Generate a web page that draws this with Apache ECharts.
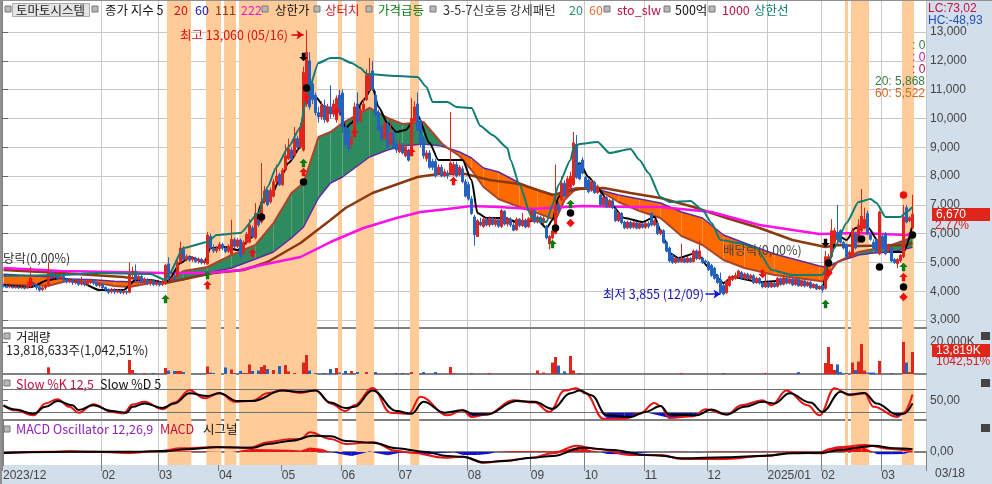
<!DOCTYPE html>
<html><head><meta charset="utf-8">
<style>html,body{margin:0;padding:0;background:#fff}#c{width:992px;height:484px}</style>
<script src="https://cdn.jsdelivr.net/npm/echarts@6/dist/echarts.min.js"></script>
</head><body><div id="c"></div>
<script>
// ---------- axis data ----------
const dayCount = 308;
const monthIdx = [0,33,52,72,93,113,132,155,176,194,214,235,255,273,293];
const monthLabels = ['2023/12','02','03','04','05','06','07','08','09','10','11','12','2025/01','02','03'];
const priceTicks = [3000,4000,5000,6000,7000,8000,9000,10000,11000,12000,13000];
const shadeBands = [[55,63],[68,73],[74,78],[79,105],[112,113.33],[118,124],[136,139],[281,282],[283,289],[300,304]];

// ---------- candles [open, close, low, high] by month ----------
const rowsDec23 = [[4200,4170,4130,4260],[4180,4130,4100,4230],[4150,4180,4100,4210],[4170,4120,4090,4200],[4130,4160,4090,4200],[4150,4110,4080,4190],[4120,4150,4080,4180],[4140,4100,4060,4170],[4110,4180,4080,4220],[4170,4300,4100,4850],[4290,4230,4150,4330],[4220,4130,4040,4250],[4140,4040,3980,4180],[4060,4120,4000,4180],[4120,4200,4060,4260],[4200,4680,4150,5000],[4650,4500,4420,4740],[4500,4580,4430,4680],[4570,4440,4390,4620],[4450,4520,4400,4590],[4510,4420,4340,4560],[4420,4320,4270,4470],[4320,4400,4280,4460],[4390,4300,4220,4430],[4300,4350,4240,4420],[4340,4240,4180,4380],[4250,4320,4200,4500],[4310,4230,4170,4350],[4240,4320,4180,4380],[4310,4380,4250,4440],[4370,4280,4220,4400],[4280,4200,4150,4320],[4200,4250,4130,4300]];
const rowsFeb24 = [[4240,4120,4060,4280],[4130,4060,3980,4170],[4060,3960,3900,4100],[3980,4060,3920,4110],[4050,3970,3900,4100],[3970,4030,3930,4080],[4030,3950,3900,4060],[3950,3990,3890,4030],[3990,3960,3880,4030],[3960,4580,3930,5000],[4570,4700,4450,4850],[4700,4400,4350,4930],[4400,4520,4330,4590],[4510,4330,4280,4560],[4340,4420,4250,4480],[4410,4290,4220,4450],[4300,4380,4190,4430],[4370,4230,4180,4410],[4240,4320,4180,4370]];
const rowsMar24 = [[4310,4220,4170,4360],[4230,4340,4180,4390],[4250,4900,4220,4950],[4950,4450,4350,5180],[4380,4440,4340,4500],[4450,4400,4330,4650],[4500,5000,4450,5060],[5000,5500,4960,5720],[5450,5100,5050,5560],[5100,5200,5030,5280],[5190,5080,5020,5250],[5090,5160,5020,5220],[5150,5040,4980,5200],[5050,5120,4960,5170],[5110,4990,4930,5160],[4990,5060,4920,5110],[4950,5950,4920,6050],[5900,5500,5440,6000],[5500,5400,5330,5620],[5400,5480,5330,5560]];
const rowsApr24 = [[5480,5620,5400,5700],[5620,5500,5420,5680],[5500,5380,5320,5560],[5390,5560,5330,5620],[5300,5800,5260,6480],[5790,5560,5480,5860],[5560,5780,5500,5850],[5780,5200,5100,5830],[5300,5700,5260,5760],[5680,5980,5620,6050],[5700,6300,5660,6500],[6200,5900,5830,6280],[5850,6700,5800,7060],[6500,6300,6230,6620],[6400,7100,6350,8450],[7100,7480,7040,7650],[7500,7000,6950,7560],[7100,7500,7040,7600],[7300,7800,7250,7900],[7800,8000,7730,8400],[8050,7700,7650,8120]];
const rowsMay24 = [[7700,8200,7650,8280],[8200,8700,8150,9100],[8600,8950,8550,9300],[8900,8600,8550,9000],[8700,9300,8650,9700],[9300,9000,8900,9400],[9000,9700,8950,9850],[8900,11600,8850,11800],[10500,12300,10400,13060],[12000,10400,10300,12300],[11200,10650,10500,11400],[10800,10200,10100,10900],[10200,10050,9850,10400],[10050,10450,9950,10600],[10450,9950,9850,10650],[9900,10400,9850,10500],[10400,10150,10000,11150],[10150,10500,10050,10650],[9950,10700,9850,10800],[10800,10200,10100,11000]];
const rowsJun24 = [[10880,9700,9500,11000],[9700,9100,9000,9800],[9600,8950,8800,9700],[9100,9300,8950,9400],[9500,10400,9450,10550],[10500,9900,9800,10900],[9900,10300,9850,10450],[10300,10500,10200,10700],[10650,11500,10600,11700],[11000,11500,10950,12100],[11650,11000,10950,12000],[10800,10100,10050,10950],[10200,9600,9550,10300],[9700,9300,9200,9800],[9300,9800,9250,9900],[9800,9000,8950,9900],[9100,9500,9050,10000],[9500,9000,8950,9600],[9100,8900,8800,9200]];
const rowsJul24 = [[8850,9100,8800,9250],[9050,8800,8750,9150],[8700,9000,8650,9100],[8900,8550,8500,8950],[8800,10000,8750,10700],[9900,10400,9850,10600],[10500,9600,9550,10900],[9900,9100,9000,10000],[9300,8700,8600,9400],[8600,8800,8500,8900],[8800,8300,8250,8900],[8500,8300,8200,8600],[8500,8000,7950,8600],[8100,8300,8050,8400],[8300,8000,7950,8400],[8000,8150,7950,8250],[8100,8000,7900,8200],[8100,8450,8050,10220],[8050,8400,8000,8500],[8400,8000,7950,8500],[8050,8300,8000,8380],[8250,7800,7750,8350],[7800,7300,7250,7900]];
const rowsAug24 = [[7700,7200,7150,7800],[7200,6700,6650,7300],[6580,5960,5580,6650],[5900,6450,5880,6500],[6400,6300,6250,6550],[6250,6500,6200,6580],[6500,6300,6250,6560],[6300,6540,6230,6600],[6530,6320,6280,6580],[6320,6480,6250,6560],[6480,6260,6200,6540],[6250,6800,6200,6850],[6780,6330,6280,6820],[6330,6520,6250,6580],[6510,6300,6230,6570],[6300,6120,6080,6400],[6130,6500,6100,6560],[6500,6280,6220,6540],[6280,6470,6230,6720],[6470,6230,6180,6520],[6240,6520,6200,6580]];
const rowsSep24 = [[6450,6800,6400,6900],[6790,6400,6350,6850],[6400,6580,6350,6640],[6570,6370,6320,6620],[6380,6530,6330,6600],[6250,5850,5800,6300],[5650,5900,5450,5950],[5850,6100,5800,6150],[6000,7000,5980,8400],[7000,6800,6700,7100],[7170,7750,7120,8000],[7750,7300,7250,7850],[7300,7900,7250,8000],[7600,8000,7550,8150],[7700,9150,7650,9530],[9100,7950,7900,9420],[8400,7900,7850,8500],[8555,8100,8050,8650]];
const rowsOct24 = [[7950,7600,7550,8000],[7860,7450,7400,7920],[7500,7800,7450,7880],[7780,7420,7380,7840],[7430,7640,7380,7700],[7340,7000,6950,7400],[7000,7250,6950,7300],[7250,6930,6880,7300],[6950,7150,6900,7200],[7140,6900,6850,7200],[6820,6450,6400,6880],[6450,6700,6400,6750],[6700,6380,6320,6750],[6400,6200,6150,6450],[6200,6400,6150,6450],[6390,6210,6150,6450],[6220,6380,6170,6430],[6370,6190,6150,6420],[6190,6350,6150,6400],[6340,6220,6170,6390]];
const rowsNov24 = [[6220,6350,6170,6400],[6350,6250,6180,6420],[6700,6300,6250,6750],[6300,6450,6250,6500],[6350,6000,5950,6400],[6000,6100,5950,6150],[6100,5700,5650,6150],[5700,5400,5350,5750],[5500,5050,5000,5550],[5250,5000,4950,5300],[5000,5150,4950,5200],[5130,5020,4980,5180],[5020,5140,4980,5650],[5130,5010,4970,5180],[5010,5150,4970,5200],[5140,5020,4980,5180],[5030,5400,5000,5450],[5400,5130,5080,5450],[5130,5400,5090,5750],[5150,5000,4950,5200],[5050,5000,4950,5100]];
const rowsDec24 = [[5000,4750,4700,5050],[4900,4550,4500,4950],[4800,4450,4400,4850],[4550,4300,4250,4600],[4400,3950,3900,4650],[4200,3900,3855,4250],[3950,4350,3900,4400],[4200,4500,4150,4550],[4400,4500,4350,4560],[4450,4550,4400,4650],[4500,4700,4450,4750],[4650,4450,4400,4700],[4450,4600,4400,4650],[4590,4440,4380,4640],[4440,4550,4400,4600],[4540,4300,4250,4590],[4300,4450,4260,4500],[4440,4280,4230,4490],[4280,4150,4100,4340],[4150,4300,4110,4600]];
const rowsJan25 = [[4290,4150,4110,4340],[4150,4290,4110,4330],[4280,4160,4120,4320],[4170,4450,4130,4500],[4440,4230,4190,4480],[4240,4470,4200,4520],[4460,4280,4230,4500],[4280,4430,4240,4470],[4420,4220,4180,4470],[4230,4420,4190,4460],[4410,4190,4150,4450],[4190,4370,4150,4420],[4360,4180,4130,4400],[4190,4320,4150,4360],[4310,4120,4080,4350],[4130,4240,4090,4280],[4230,4080,4040,4270],[4090,4160,4040,4200]];
const rowsFeb25 = [[4200,4050,3950,4250],[4100,5200,4050,5400],[5000,5200,4950,5300],[5200,6100,5150,6500],[5700,6100,5650,6200],[6050,5800,5750,7000],[6100,5700,5650,6150],[5700,5500,5450,5750],[5600,5200,5150,5650],[5250,5350,5180,5420],[5200,6100,5150,6200],[6000,5500,5450,6050],[5700,6300,5650,6500],[6100,6600,6050,7550],[6200,6500,6150,6900],[6700,6000,5950,6800],[5950,5800,5750,6000],[5700,5500,5450,5800],[5800,5400,5350,5850],[5300,6750,5250,6800]];
const rowsMar25 = [[5900,5500,5450,5950],[6000,5300,5250,6050],[5400,5600,5350,5650],[5500,5050,5000,5550],[5100,5000,4950,5150],[4950,5100,4800,5150],[5050,5250,5000,5300],[5200,6580,5150,7000],[6900,6400,6350,7000],[6450,6550,6400,6600],[6200,6670,6150,7350]];
const monthRows = [rowsDec23,rowsFeb24,rowsMar24,rowsApr24,rowsMay24,rowsJun24,rowsJul24,rowsAug24,rowsSep24,rowsOct24,rowsNov24,rowsDec24,rowsJan25,rowsFeb25,rowsMar25];

// ---------- moving averages: [day, price] ----------
const ma5 = [[0,4216],[9,4146],[15,4389],[19,4459],[26,4285],[32,4042],[40,4042],[44,4389],[49,4389],[54,4285],[55,4389],[59,4980],[62,5188],[67,5014],[69,5500],[74,5535],[78,5431],[83,5882],[86,7063],[89,7271],[92,7861],[95,8452],[99,9007],[100,10292],[101,11056],[104,10743],[107,10396],[112,10292],[114,9667],[116,9840],[120,10639],[123,11090],[125,10396],[128,9840],[131,9528],[134,9597],[138,10118],[142,9146],[145,8556],[153,8556],[156,7861],[158,6716],[161,6542],[167,6542],[172,6368],[178,6473],[181,6195],[183,6473],[185,7271],[189,7861],[192,8452],[195,7965],[198,7584],[202,7063],[207,6542],[213,6403],[217,6577],[219,6125],[222,5327],[225,5153],[231,5327],[235,4841],[240,4285],[243,4493],[252,4320],[263,4389],[273,4111],[275,4980],[278,5952],[281,5778],[284,6195],[288,6229],[292,5674],[296,5362],[300,5362],[303,6299]];
const ma111 = [[0,4737],[19,4633],[40,4493],[54,4285],[70,4633],[80,4737],[88,5014],[99,5674],[109,6473],[114,6889],[123,7410],[138,7965],[145,8070],[154,8070],[162,7861],[172,7722],[183,7341],[192,7549],[200,7584],[209,7410],[219,7236],[230,6924],[241,6542],[252,6195],[263,5778],[274,5535],[278,5605],[285,5570],[301,5605],[303,5674]];
const ma222 = [[0,4806],[19,4702],[54,4633],[68,4633],[79,4737],[86,4910],[99,5188],[109,5708],[120,6195],[131,6542],[139,6750],[148,6854],[156,6959],[165,6924],[176,6854],[193,6959],[209,6924],[219,6924],[236,6750],[252,6299],[272,5986],[285,6021],[301,5952],[303,6021]];
const upperBand = [[0,4528],[19,4563],[32,4633],[49,4598],[54,4389],[55,4563],[60,5500],[68,5709],[71,5952],[79,6021],[85,6716],[88,7618],[91,8313],[95,9007],[99,9701],[101,10743],[105,11924],[109,12097],[112,12097],[116,11924],[119,11750],[121,11542],[131,11472],[138,11438],[141,11090],[143,10570],[148,10570],[151,10396],[156,10361],[159,9736],[163,9424],[168,8972],[169,8556],[172,7688],[176,6577],[181,6403],[183,6993],[185,7688],[189,8556],[190,8972],[192,9111],[198,9181],[202,8799],[209,8938],[212,8556],[215,8104],[219,7271],[222,7097],[229,7132],[233,6820],[236,6368],[239,5778],[245,5674],[251,5500],[256,4737],[263,4563],[273,4563],[274,4737],[277,5500],[281,6368],[285,7097],[289,7202],[291,7063],[294,6577],[299,6577],[301,6750],[303,6924]];
const cloudDays = [0,15,22,30,37,42,50,54,60,68,76,84,90,96,100,105,109,113,122,128,133,140,146,148,152,156,160,165,172,178,184,187,191,196,200,205,212,219,226,233,240,247,257,272,274,276,278,285,290,296,303];
const ma20 = [4230,4190,4380,4320,4180,4150,4300,4300,4700,4841,5257,5605,6368,7410,7757,9354,9528,9840,10362,10014,9806,9875,9146,8972,8695,8209,7618,7202,6924,6716,6473,7167,7584,7584,7410,7097,6785,6542,5917,5605,5084,4806,4563,4355,4320,4737,5014,5362,5465,5605,5868];
const ma60 = [4590,4500,4420,4400,4350,4330,4320,4300,4400,4633,4806,5118,5362,5848,6229,7236,7757,7966,8660,8903,9042,9111,9042,8972,8834,8625,8278,8139,7757,7514,7341,7514,7584,7584,7480,7341,7202,7063,6750,6542,5952,5674,5292,4875,4841,4910,5014,5257,5327,5362,5522];

// ---------- signal marks: [day, price] ----------
const greenUp = [[54,3730],[68,4563],[100,8452],[183,5639],[189,7028],[274,3556],[300,4841]];
const redUp = [[68,4216],[83,5327],[100,8139],[101,10708],[111,10222],[117,9493],[136,8834],[150,7827],[300,4493]];
const redDown = [[9,4320],[253,4598]];
const blackDown = [[100,12132],[274,5674]];
const blackDots = [[86,6577],[100,7792],[101,11056],[184,6195],[189,6716],[275,4980],[286,5813],[292,4841],[300,4146],[303,5952]];
const redDiamonds = [[189,6368],[275,4633],[300,3799]];
const redDots = [[300,7341]];

// ---------- volume (thousand shares): [day, volume] ----------
const volumeRows = [[15,4200],[42,8800],[43,2500],[44,600],[47,600],[50,600],[54,3800],[55,2200],[57,1900],[58,1900],[59,1900],[60,1200],[68,4700],[69,900],[70,600],[74,4100],[76,2800],[77,600],[79,1900],[80,600],[81,600],[82,6000],[83,1900],[85,2200],[86,4400],[87,5600],[88,3100],[90,2500],[92,5000],[94,5600],[95,1600],[97,600],[100,7200],[101,11900],[102,2200],[104,600],[107,600],[109,3100],[111,3800],[112,900],[114,1900],[116,1900],[118,1200],[121,1200],[124,1200],[131,600],[133,600],[136,1200],[140,1200],[144,1200],[149,4400],[150,600],[156,600],[162,600],[178,2200],[180,900],[183,7200],[184,10700],[185,5300],[187,1600],[189,11300],[190,2200],[192,600],[226,600],[240,600],[254,600],[265,1200],[274,6900],[275,17000],[276,6300],[277,2500],[278,6000],[279,1200],[281,600],[283,7200],[284,2500],[285,7800],[286,18800],[287,2200],[288,900],[289,900],[290,900],[292,8200],[296,600],[300,20100],[301,7200],[302,1200],[303,13819]];

// ---------- Slow stochastic: [day, value] ----------
const slowD = [[0,38],[4,27],[10,16],[14,34],[18,49],[23,38],[25,26],[30,38],[36,23],[41,19],[43,34],[47,43],[53,31],[57,43],[62,69],[68,62],[72,69],[78,49],[83,49],[93,76],[99,73],[104,76],[109,45],[114,31],[117,34],[123,76],[131,23],[136,16],[140,47],[147,19],[153,25],[157,14],[161,14],[171,49],[177,47],[183,29],[189,69],[192,76],[196,64],[201,12],[209,8],[214,21],[219,36],[222,14],[231,12],[236,27],[241,14],[247,34],[253,47],[257,43],[262,69],[269,45],[273,21],[279,73],[282,66],[287,70],[291,43],[298,14],[300,16],[303,43]];
const slowK = [[0,38],[4,25],[10,12],[14,43],[18,54],[22,34],[25,19],[30,41],[36,21],[40,17],[43,40],[47,47],[53,28],[57,45],[62,77],[67,56],[72,70],[77,47],[83,50],[88,69],[93,77],[99,70],[104,77],[109,43],[114,23],[117,38],[123,83],[129,19],[135,16],[139,60],[148,12],[153,25],[156,8],[161,14],[170,51],[177,45],[182,21],[187,76],[191,82],[194,69],[200,3],[207,3],[212,16],[217,44],[219,36],[222,5],[230,10],[234,28],[241,14],[246,38],[253,51],[256,38],[261,76],[268,38],[272,12],[277,82],[282,64],[287,69],[290,34],[298,8],[300,19],[303,66]];
const slowFillDays = [154,156,161,163,199,201,207,212,214,222,230,232,296,298,300];
const slowFillLow = [20,8,14,20,20,5,3,16,20,5,10,20,20,8,19];
const slowLevels = [20,80];

// ---------- MACD: [day, value] ----------
const macdLine = [[0,-40],[15,10],[22,40],[30,10],[41,-40],[52,40],[59,150],[71,200],[82,170],[88,390],[95,510],[99,520],[102,790],[109,520],[114,320],[123,390],[131,40],[136,-30],[147,-230],[153,-190],[160,-430],[167,-350],[176,-230],[183,-50],[191,250],[198,120],[209,-120],[219,-120],[226,-280],[241,-280],[254,-150],[263,-30],[273,-50],[278,190],[287,280],[296,120],[303,10]];
const macdSignal = [[0,-40],[15,0],[29,10],[43,10],[54,40],[61,110],[71,190],[83,170],[88,320],[96,450],[103,650],[109,630],[114,440],[123,370],[131,150],[140,10],[148,-160],[153,-190],[160,-410],[167,-360],[176,-230],[183,-160],[193,170],[203,80],[214,-120],[219,-150],[226,-250],[241,-210],[254,-150],[263,-50],[273,-30],[279,80],[287,210],[290,250],[297,150],[303,110]];
const oscDays = [0,60,76,82,88,95,99,102,106,109,113,116,120,122,124,128,132,135,141,144,150,153,158,162,164,170,183,186,192,196,199,201,206,212,216,221,224,229,232,236,245,255,268,272,275,280,286,290,291,296,300,303];
const oscVals = [0,30,0,120,110,90,60,180,130,0,-100,-160,-40,30,-40,-130,-30,0,-110,-60,0,-120,-120,-70,0,40,30,60,200,60,0,-80,-90,-40,0,0,20,0,-10,20,20,20,20,0,160,220,220,0,-90,-90,-80,20];
const macdTickLabels = [0];

// ---------- legend and notes ----------
const legendLabels = ['종가 지수 5','20','60','111','222','상한가','상터치','가격급등','3-5-7신호등 강세패턴','20','60','sto_slw','500억','1000','상한선'];
const priceBoxText = ['6,670','2,77%'];
const volumeBoxText = ['13,819K','1042,51%'];
const highNote = '최고 13,060 (05/16)';
const lowNote = '최저 3,855 (12/09)';

// ---------- derived ----------
const ohlc = new Array(dayCount).fill('-');
monthRows.forEach((rows,m)=>rows.forEach((r,k)=>{ohlc[monthIdx[m]+k]=r;}));
const cats = [];
for(let i=0;i<dayCount;i++){const m=monthIdx.indexOf(i);cats.push(m>=0?monthLabels[m]+'|'+i:'d'+i);}
const isMonth=(i)=>monthIdx.indexOf(i)>=0;
const at=(p)=>[p[0]+0.5,p[1]];

const KFONT='"Noto Sans CJK KR","Noto Sans",sans-serif';
const NUM='"Liberation Sans",sans-serif';
const GRID='#C8C8C8', EDGE='#808080', PANEL='#D3DEEB';
const UP='#E0251B', DN='#2362C0';
const panels=[{top:1,bottom:328},{top:328,bottom:374},{top:374,bottom:420},{top:420,bottom:465}];
const RIGHT=926;
const grids=panels.map(p=>({left:2,width:RIGHT-2,top:p.top,height:p.bottom-p.top}));

const catAxis=(g,withLabels)=>({type:'category',gridIndex:g,data:cats,boundaryGap:true,
  axisLine:{show:true,lineStyle:{color:EDGE,width:2}},
  axisTick:{show:g==3,length:19,interval:(i)=>isMonth(i),lineStyle:{color:EDGE,width:1}},
  splitLine:{show:true,interval:(i)=>isMonth(i),lineStyle:{color:GRID,width:1}},
  axisLabel:{show:withLabels,interval:(i)=>isMonth(i),formatter:(v)=>v.split('|')[0],align:'left',margin:5,fontFamily:NUM,fontSize:12,color:'#444',padding:[0,0,0,-1]}});
const valAxis=(g)=>({type:'value',gridIndex:g,min:0,max:dayCount,show:false,splitLine:{show:false}});
const xAxes=[0,1,2,3].map(g=>catAxis(g,g==3)).concat([0,1,2,3].map(valAxis));

const rAxis=(g,min,max,vals,fmt,extra)=>Object.assign({type:'value',gridIndex:g,position:'right',min,max,
  axisLine:{show:true,lineStyle:{color:EDGE,width:2}},
  axisTick:{show:true,customValues:vals,length:6,lineStyle:{color:'#666'}},
  axisLabel:{customValues:vals,formatter:fmt,margin:4,fontFamily:NUM,fontSize:12,color:'#444'},
  splitLine:{show:false}},extra||{});
const yAxes=[
  rAxis(0,2723,14076,priceTicks,(v)=>v.toLocaleString('en-US'),{splitLine:{show:true,lineStyle:{color:GRID,width:1}}}),
  rAxis(1,0,28900,[20000],(v)=>'20,000K'),
  rAxis(2,0,119,[50],(v)=>'50,00'),
  rAxis(3,-520,1280,macdTickLabels,(v)=>'0,00')
];

const shadeData=shadeBands.map(b=>[{xAxis:b[0]},{xAxis:b[1]}]);
const shade=(g)=>({type:'line',xAxisIndex:4+g,yAxisIndex:g,data:[],silent:true,z:1,
  markArea:{silent:true,itemStyle:{color:'#FFCC99',opacity:1},data:shadeData}});
const line=(name,g,data,color,width,z,smooth)=>({type:'line',name,xAxisIndex:4+g,yAxisIndex:g,data:data.map(at),showSymbol:false,symbol:'none',
  lineStyle:{color,width},z:z||4,silent:true,smooth:smooth||false,smoothMonotone:'x'});
const fill=(name,g,days,a,b,pos,neg,z)=>{
  const d=[];for(let i=0;i+1<days.length;i++)d.push([days[i]+0.5,a[i],b[i],days[i+1]+0.5,a[i+1],b[i+1]]);
  return {type:'custom',name,xAxisIndex:4+g,yAxisIndex:g,data:d,silent:true,z:z||3,clip:true,
    encode:{x:[0,3],y:[1,2,4,5]},
    renderItem:(p,api)=>{
      const p0=api.coord([api.value(0),api.value(1)]),p1=api.coord([api.value(3),api.value(4)]);
      const q1=api.coord([api.value(3),api.value(5)]),q0=api.coord([api.value(0),api.value(2)]);
      const s=(api.value(1)-api.value(2))+(api.value(4)-api.value(5));
      return {type:'polygon',shape:{points:[p0,p1,q1,q0]},style:{fill:s>0?pos:neg,stroke:null}};
    }};
};
const scatter=(name,data,symbol,size,color,rotate)=>({type:'scatter',name,xAxisIndex:4,yAxisIndex:0,data:data.map(at),
  symbol,symbolSize:size,symbolRotate:rotate||0,itemStyle:{color,opacity:1},z:8,silent:true});
const ARROW='path://M5 0 L10 5 L7 5 L7 10 L3 10 L3 5 L0 5 Z';

const volData=new Array(dayCount).fill('-');
volumeRows.forEach(r=>{const c=ohlc[r[0]];volData[r[0]]={value:r[1],itemStyle:{color:(c!=='-'&&c[1]>=c[0])?UP:DN}};});

const slowFillTop=slowFillDays.map(()=>20);
const oscZero=oscDays.map(()=>0);

const series=[
  shade(0),shade(1),shade(2),shade(3),
  fill('cloud',0,cloudDays,ma20,ma60,'#2E8B5F','#FF6A00'),
  line('ma60',0,cloudDays.map((d,i)=>[d,ma60[i]]),'#5A2CA0',1.5),
  line('ma20',0,cloudDays.map((d,i)=>[d,ma20[i]]),'#A8452C',2),
  line('ma111',0,ma111,'#8B3A0E',2.5),
  line('ma222',0,ma222,'#FF10E8',2.5),
  line('ma5',0,ma5,'#000000',2,4.5,0.25),
  {type:'candlestick',name:'price',xAxisIndex:0,yAxisIndex:0,data:ohlc,barWidth:3,z:5,silent:true,
   itemStyle:{color:UP,color0:DN,borderColor:UP,borderColor0:DN,borderWidth:1},
   markLine:{silent:true,symbol:['none','arrow'],symbolSize:7,animation:false,label:{show:false},
     data:[[{coord:[cats[96],12900],lineStyle:{color:'#E00000',width:1.5,type:'solid'}},{coord:[cats[100],12900]}],
           [{coord:[cats[234],3900],lineStyle:{color:'#1010D0',width:1.5,type:'solid'}},{coord:[cats[239],3900]}]]}},
  line('upper',0,upperBand,'#0E7C72',2,6,0.2),
  scatter('gu',greenUp,ARROW,8.5,'#0A7A14'),
  scatter('ru',redUp,ARROW,8.5,'#F01010'),
  scatter('rd',redDown,ARROW,8.5,'#F01010',180),
  scatter('bd',blackDown,ARROW,8.5,'#000',180),
  scatter('bc',blackDots,'circle',7.5,'#000'),
  scatter('rm',redDiamonds,'diamond',8.5,'#F01010'),
  scatter('rc',redDots,'circle',7.5,'#F01010'),
  {type:'bar',name:'volume',xAxisIndex:1,yAxisIndex:1,data:volData,barWidth:3,z:5,silent:true},
  fill('slowfill',2,slowFillDays,slowFillTop,slowFillLow,'#1010D0','#1010D0'),
  {type:'line',xAxisIndex:6,yAxisIndex:2,data:[],silent:true,z:2,
   markLine:{silent:true,symbol:'none',label:{show:false},lineStyle:{color:'#707070',width:1,type:'solid'},data:slowLevels.map(v=>({yAxis:v}))}},
  line('k',2,slowK,'#E81414',2,5,0.4),
  line('d',2,slowD,'#000',2,6,0.4),
  fill('osc',3,oscDays,oscVals,oscZero,'#E81414','#1010D0'),
  line('macd',3,macdLine,'#E81414',2,5,0.4),
  line('sig',3,macdSignal,'#000',2,6,0.4)
];

// ---------- page furniture ----------
const LBL=12.5;
const T=(text,x,y,fill,size,font,extra)=>Object.assign({type:'text',z:50,silent:true,style:{text,x,y,fill,font:(size||LBL)+'px '+(font||KFONT),textVerticalAlign:'middle',textBaseline:'middle'}},extra||{});
const SQ=(x,y)=>({type:'rect',z:50,silent:true,shape:{x:x,y:y,width:6,height:6},style:{fill:'#B8B8B8',stroke:'#777',lineWidth:1}});
const XB=(y)=>({type:'rect',z:50,silent:true,shape:{x:981,y:y,width:9,height:8},style:{fill:'#444'}});
const graphics=[
  {type:'rect',z:-10,silent:true,shape:{x:927,y:0,width:65,height:484},style:{fill:PANEL}},
  {type:'rect',z:-10,silent:true,shape:{x:2,y:465,width:990,height:19},style:{fill:PANEL}},
  {type:'rect',z:60,silent:true,shape:{x:0,y:0,width:2,height:484},style:{fill:'#909090'}},
  {type:'rect',z:60,silent:true,shape:{x:0,y:0,width:992,height:1},style:{fill:'#909090'}},
  {type:'rect',z:49,silent:true,shape:{x:12.5,y:3.5,width:77,height:13},style:{fill:'#E4E4E4',stroke:'#AAA',lineWidth:1}},
  SQ(5,6),SQ(92,6),SQ(262,6),SQ(314,6),SQ(366,6),SQ(430,6),SQ(604,6),SQ(664,6),SQ(709,6),
  SQ(4,333),SQ(4,380),SQ(4,426),
  T('토마토시스템',16,10,'#222'),
  T(legendLabels[0],105,10,'#111'),T(legendLabels[1],174,10,'#D01414'),T(legendLabels[2],195,10,'#1414C0'),
  T(legendLabels[3],215,10,'#8A3B10'),T(legendLabels[4],241,10,'#E020D0'),T(legendLabels[5],275,10,'#111'),
  T(legendLabels[6],325,10,'#D01414'),T(legendLabels[7],378,10,'#0A7A14'),T(legendLabels[8],443,10,'#333'),
  T(legendLabels[9],569,10,'#2E8B6F'),T(legendLabels[10],589,10,'#E07030'),T(legendLabels[11],617,10,'#C01040'),
  T(legendLabels[12],675,10,'#111'),T(legendLabels[13],722,10,'#C01040'),T(legendLabels[14],754,10,'#0E7C72'),
  T('LC:73,02',928,9,'#C01040',12,NUM),T('HC:-48,93',928,21,'#2050B0',12,NUM),
  T(': 0',912,46,'#3A7A4A',12,NUM),T(': 0',912,58,'#C020B0',12,NUM),T(': 0',912,70,'#B01050',12,NUM),
  T('20: 5,868',875,82,'#3A7A4A',12,NUM),T('60: 5,522',875,94,'#D06A2A',12,NUM),
  T(highNote,180,35,'#E01010'),T(lowNote,603,294,'#1414B0'),
  T('당락(0,00%)',3,258,'#333'),T('배당락(0,00%)',723,250,'#444'),
  T('거래량',16,337,'#111'),T('13,818,633주(1,042,51%)',6,350,'#222'),
  T('Slow %K 12,5',16,384,'#C01040'),T('Slow %D 5',100,384,'#111'),
  T('MACD Oscillator 12,26,9',16,429,'#9020C0'),T('MACD',160,429,'#C01040'),T('시그널',203,429,'#111'),
  T('03/18',935,474,'#444',12,NUM),
  {type:'rect',z:55,silent:true,shape:{x:932,y:208,width:58,height:13},style:{fill:UP}},
  T(priceBoxText[0],936,214.5,'#fff',12,NUM,{z:56}),T(priceBoxText[1],935,226,'#D02020',12,NUM,{z:56}),
  {type:'rect',z:55,silent:true,shape:{x:932,y:344,width:58,height:13},style:{fill:UP}},
  T(volumeBoxText[0],936,350.5,'#fff',12,NUM,{z:56}),T(volumeBoxText[1],936,362,'#D02020',12,NUM,{z:56}),
  XB(332),XB(379),XB(424)
];

const chart=echarts.init(document.getElementById('c'),null,{renderer:'canvas',width:992,height:484});
chart.setOption({animation:false,backgroundColor:'#fff',grid:grids,xAxis:xAxes,yAxis:yAxes,series,graphic:{elements:graphics},tooltip:{show:false},legend:{show:false}});
</script></body></html>
